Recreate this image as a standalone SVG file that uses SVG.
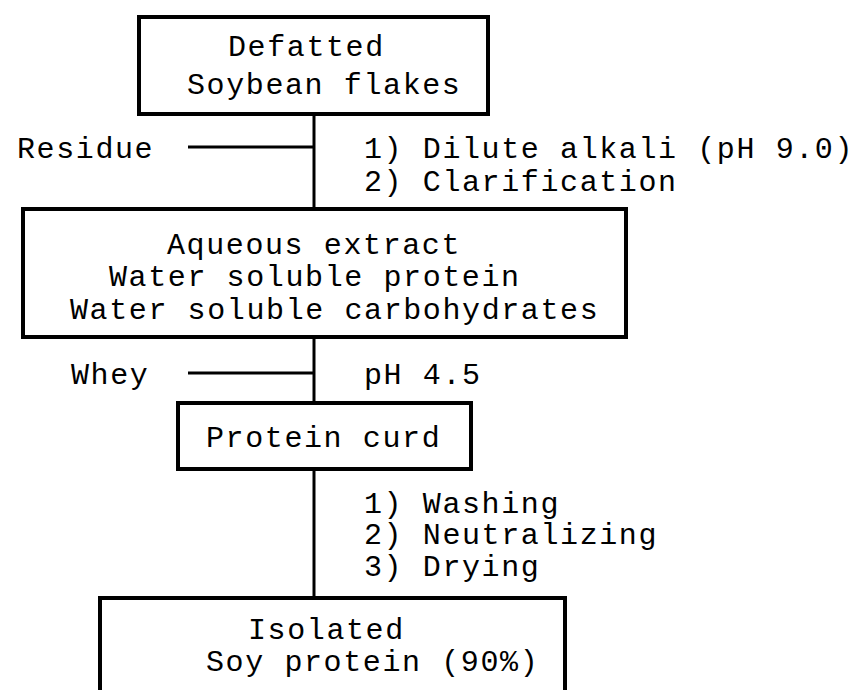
<svg xmlns="http://www.w3.org/2000/svg" width="864" height="690" viewBox="0 0 864 690">
<style>
.box{fill:none;stroke:#000;stroke-width:4}
.ln{stroke:#000;stroke-width:3;fill:none}
text{font-family:"Liberation Mono","DejaVu Sans Mono",monospace;font-size:30px;letter-spacing:1.6px;fill:#000}
</style>
<rect width="864" height="690" fill="#fff"/>
<g id="connectors">
<line class="ln" x1="314" y1="114" x2="314" y2="209"/>
<line class="ln" x1="188" y1="147" x2="314" y2="147"/>
<line class="ln" x1="314" y1="337" x2="314" y2="403"/>
<line class="ln" x1="188" y1="373" x2="314" y2="373"/>
<line class="ln" x1="314" y1="469" x2="314" y2="598"/>
</g>
<g id="n1">
<rect class="box" x="139" y="17" width="349" height="97"/>
<text x="228" y="56">Defatted</text>
<text x="187" y="94">Soybean flakes</text>
</g>
<g id="lbl1">
<text x="17" y="158">Residue</text>
<text x="364" y="158">1) Dilute alkali (pH 9.0)</text>
<text x="364" y="191">2) Clarification</text>
</g>
<g id="n2">
<rect class="box" x="23" y="209" width="603" height="128"/>
<text x="167" y="254">Aqueous extract</text>
<text x="109" y="286">Water soluble protein</text>
<text x="70" y="319">Water soluble carbohydrates</text>
</g>
<g id="lbl2">
<text x="71" y="384">Whey</text>
<text x="364" y="384">pH 4.5</text>
</g>
<g id="n3">
<rect class="box" x="178" y="403" width="293" height="66"/>
<text x="206" y="447">Protein curd</text>
</g>
<g id="lbl3">
<text x="364" y="513">1) Washing</text>
<text x="364" y="544">2) Neutralizing</text>
<text x="364" y="576">3) Drying</text>
</g>
<g id="n4">
<path class="box" d="M100,700 V598 H565 V700"/>
<text x="248" y="639">Isolated</text>
<text x="206" y="671">Soy protein (90%)</text>
</g>
</svg>
